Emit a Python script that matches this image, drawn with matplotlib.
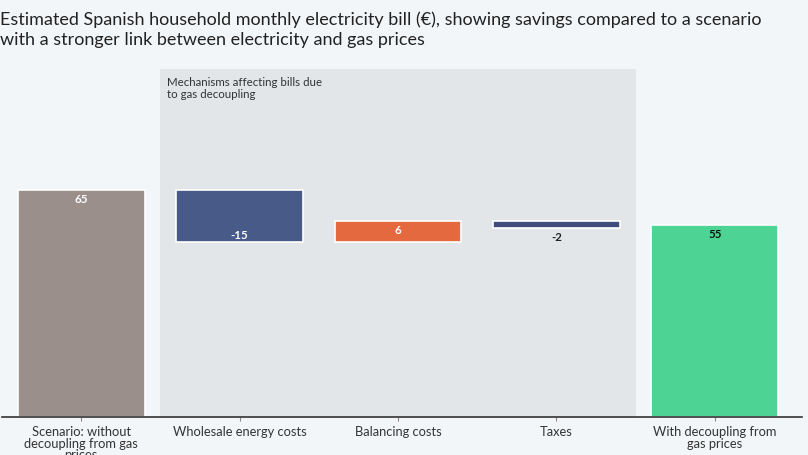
import matplotlib.pyplot as plt
from matplotlib.patches import Rectangle

# data
categories = ["Scenario: without\ndecoupling from gas\nprices", "Wholesale energy costs",
              "Balancing costs", "Taxes", "With decoupling from\ngas prices"]
start_value = 65
changes = [-15, 6, -2]
end_value = 55

colors = ["#9b8f8c", "#475a88", "#e4693f", "#3f4c7c", "#4dd494"]
label_colors = ["white", "white", "white", "#222222", "#111111"]

bg = "#f3f6f9"
plt.rcParams['font.family'] = ['Lato', 'DejaVu Sans']

fig = plt.figure(figsize=(8.08, 4.56), dpi=100, facecolor=bg)
ax = fig.add_axes([0.0025, 0.083, 0.99, 0.767])
ax.set_facecolor(bg)

# shaded box for the mechanisms
ax.add_patch(Rectangle((0.5, 0), 3.0, 99.4, facecolor="#e2e6e9", edgecolor="none", zorder=0))
ax.text(0.54, 97.5, "Mechanisms affecting bills due\nto gas decoupling", ha="left", va="top",
        fontsize=8.3, color="#333333", linespacing=1.1)

# waterfall bottoms/heights
bottoms = [0]
heights = [start_value]
level = start_value
for c in changes:
    new = level + c
    bottoms.append(min(level, new))
    heights.append(abs(c))
    level = new
bottoms.append(0)
heights.append(end_value)

xs = list(range(len(categories)))
ax.bar(xs, heights, bottom=bottoms, width=0.8, color=colors, edgecolor="white",
       linewidth=1.2, zorder=2)

vals = [start_value] + changes + [end_value]
for i, v in enumerate(vals):
    top = bottoms[i] + heights[i]
    if i == 1:
        y, va = bottoms[i] + 0.6, "bottom"
    elif i == 3:
        y, va = bottoms[i] - 0.8, "top"
    else:
        y, va = top - 0.8, "top"
    ax.text(i, y, str(v), ha="center", va=va, fontsize=8.3, fontweight="bold",
            color=label_colors[i], zorder=3)

ax.set_xlim(-0.5, 4.55)
ax.set_ylim(0, 100)
ax.set_yticks([])
ax.set_xticks(xs)
ax.set_xticklabels(categories, fontsize=9.3, color="#333333", linespacing=0.95)
ax.tick_params(axis="x", length=3, color="#888888", pad=3)
for s in ["top", "right", "left"]:
    ax.spines[s].set_visible(False)
ax.spines["bottom"].set_color("#333333")
ax.spines["bottom"].set_linewidth(1.2)

fig.text(0.0, 0.975, "Estimated Spanish household monthly electricity bill (€), showing savings compared to a scenario\n"
         "with a stronger link between electricity and gas prices",
         ha="left", va="top", fontsize=13, color="#222222", linespacing=1.3)

fig.savefig("out.png", dpi=100, facecolor=bg)
